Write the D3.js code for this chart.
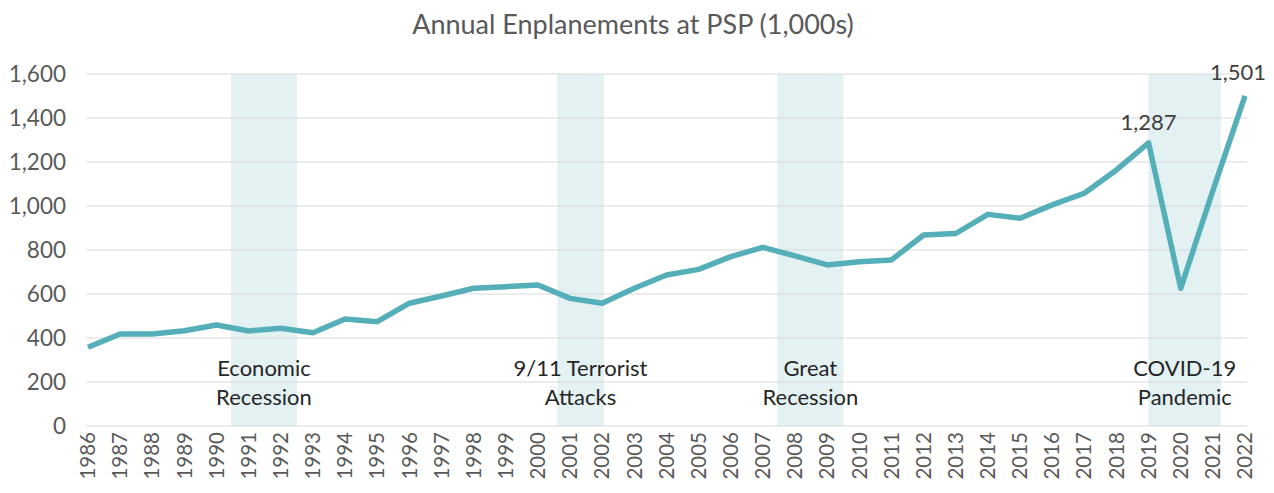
<!DOCTYPE html>
<html>
<head>
<meta charset="utf-8">
<script src="https://cdn.jsdelivr.net/npm/d3@7"></script>
<style>
  body { margin: 0; background: #fff; }
  text { font-family: Lato, "Open Sans", sans-serif; }
</style>
</head>
<body>
<div id="chart"></div>
<script>
// DATA ===========================================================================================
const years = d3.range(1986, 2023)
const enplanements = [358, 418, 418, 433, 459, 432, 444, 424, 486, 474,
  558, 591, 626, 633, 641, 580, 558, 626, 686, 712,
  770, 812, 773, 732, 747, 755, 868, 875, 962, 944,
  1005, 1058, 1164, 1287, 626, 1070, 1501]
const yTicks = [0, 200, 400, 600, 800, 1000, 1200, 1400, 1600]
const bands = [
  {from: 1990.45, to: 1992.5, lines: ['Economic', 'Recession']},
  {from: 2000.6, to: 2002.05, lines: ['9/11 Terrorist', 'Attacks']},
  {from: 2007.45, to: 2009.5, lines: ['Great', 'Recession']},
  {from: 2019.0, to: 2021.25, lines: ['COVID-19', 'Pandemic']}
]
const callouts = [2019, 2022]

// SET UP =========================================================================================
const width = 1274
const height = 493
const margin = {top: 74, right: 29, bottom: 67, left: 88}

const svg = d3.select('#chart')
  .append('svg')
  .attr('width', width)
  .attr('height', height)

const x = d3.scaleLinear()
  .domain([1986, 2022])
  .range([margin.left, width - margin.right])

const y = d3.scaleLinear()
  .domain([0, 1600])
  .range([height - margin.bottom, margin.top])

// TITLE ==========================================================================================
svg.append('text')
  .attr('x', 633)
  .attr('y', 34)
  .attr('text-anchor', 'middle')
  .attr('font-size', 27)
  .attr('fill', '#595959')
  .text('Annual Enplanements at PSP (1,000s)')

// BANDS ==========================================================================================
svg.append('g')
  .selectAll('rect')
  .data(bands)
  .join('rect')
  .attr('x', d => x(d.from))
  .attr('width', d => x(d.to) - x(d.from))
  .attr('y', y(1600))
  .attr('height', y(0) - y(1600))
  .attr('fill', '#e3f1f3')

// GRID AND AXES ==================================================================================
svg.append('g')
  .selectAll('line')
  .data(yTicks)
  .join('line')
  .attr('x1', x(1986) - 2)
  .attr('x2', x(2022) + 2)
  .attr('y1', d => y(d))
  .attr('y2', d => y(d))
  .attr('stroke', '#d9d9d9')
  .attr('stroke-width', 1.2)

svg.append('g')
  .selectAll('text')
  .data(yTicks)
  .join('text')
  .attr('x', 66)
  .attr('y', d => y(d))
  .attr('dy', '0.35em')
  .attr('text-anchor', 'end')
  .attr('font-size', 22.5)
  .attr('fill', '#595959')
  .text(d => d3.format(',')(d))

svg.append('g')
  .selectAll('text')
  .data(years)
  .join('text')
  .attr('transform', d => `translate(${x(d)}, ${y(0) + 6}) rotate(-90)`)
  .attr('dy', '0.35em')
  .attr('text-anchor', 'end')
  .attr('font-size', 20.5)
  .attr('fill', '#595959')
  .text(d => d)

// BAND LABELS ====================================================================================
const labels = svg.append('g')
  .selectAll('text')
  .data(bands)
  .join('text')
  .attr('text-anchor', 'middle')
  .attr('font-size', 22)
  .attr('fill', '#262626')

labels.selectAll('tspan')
  .data(d => d.lines.map((l, i) => ({l, i, cx: x((d.from + d.to) / 2)})))
  .join('tspan')
  .attr('x', d => d.cx)
  .attr('y', d => 376 + d.i * 29)
  .text(d => d.l)

// LINE ===========================================================================================
svg.append('path')
  .datum(enplanements)
  .attr('fill', 'none')
  .attr('stroke', '#54afb8')
  .attr('stroke-width', 5.5)
  .attr('stroke-linejoin', 'round')
  .attr('d', d3.line()
    .x((d, i) => x(years[i]))
    .y(d => y(d))
  )

// CALLOUTS =======================================================================================
svg.append('g')
  .selectAll('text')
  .data(callouts)
  .join('text')
  .attr('x', d => x(d) + (d === 2022 ? -7 : 0))
  .attr('y', d => y(enplanements[years.indexOf(d)]) - (d === 2022 ? 16 : 13))
  .attr('text-anchor', 'middle')
  .attr('font-size', 22)
  .attr('fill', '#404040')
  .text(d => d3.format(',')(enplanements[years.indexOf(d)]))
</script>
</body>
</html>
